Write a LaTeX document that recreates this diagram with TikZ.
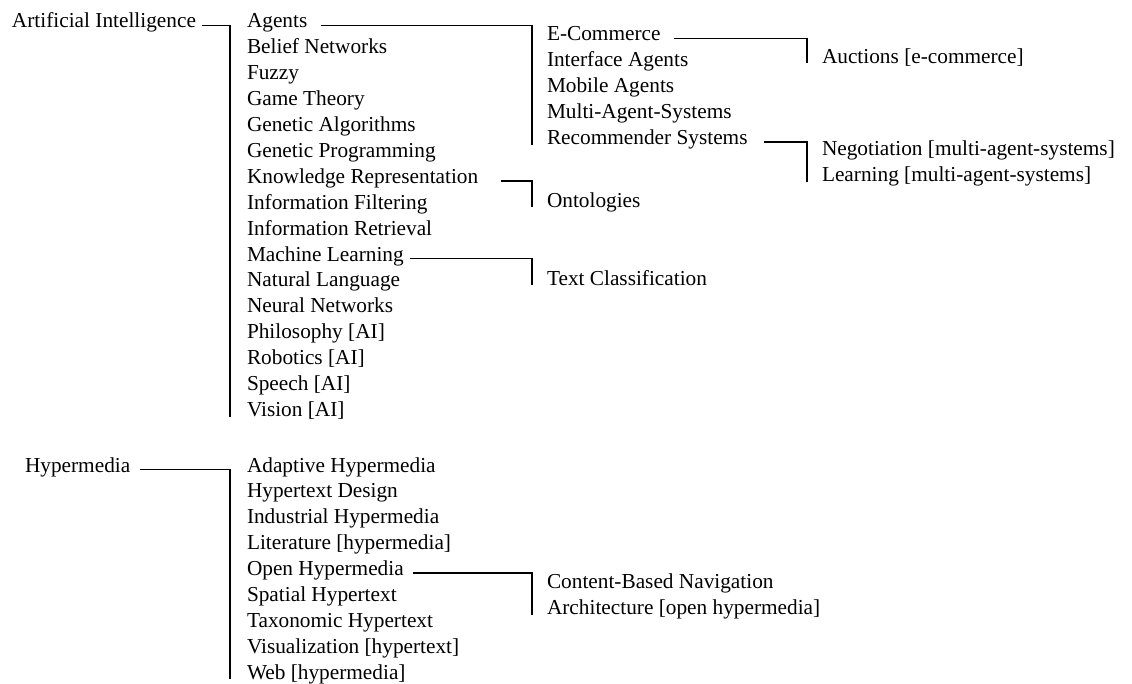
\documentclass[tikz,border=0pt]{standalone}
\usepackage{fontspec}
\setmainfont{Liberation Serif}
\begin{document}
\begin{tikzpicture}[x=1pt,y=-1pt,
  lbl/.style={anchor=base west,inner sep=0pt,outer sep=0pt,font=\fontsize{21.3}{26}\selectfont},
  link/.style={draw=black,line width=1.5pt}]
\useasboundingbox (0,0) rectangle (1132,684);

% ---- top level ----
\node[lbl] (ai)  at (12,28)  {Artificial Intelligence};
\node[lbl] (hyp) at (25,472) {Hypermedia};

% ---- AI subtopics ----
\foreach \name/\txt [count=\i from 0] in {
  agents/Agents, belief/Belief Networks, fuzzy/Fuzzy, game/Game Theory,
  ga/Genetic Algorithms, gp/Genetic Programming, kr/Knowledge Representation,
  ifilt/Information Filtering, iret/Information Retrieval, ml/Machine Learning,
  nl/Natural Language, nn/Neural Networks, phil/{Philosophy [AI]},
  rob/{Robotics [AI]}, speech/{Speech [AI]}, vision/{Vision [AI]}}
  \node[lbl] (\name) at (247,28+25.9*\i) {\txt};

% ---- Agents subtopics ----
\foreach \name/\txt [count=\i from 0] in {
  ecom/E-Commerce, iface/Interface Agents, mobile/Mobile Agents,
  mas/Multi-Agent-Systems, recsys/Recommender Systems}
  \node[lbl] (\name) at (547,41+25.9*\i) {\txt};

\node[lbl] (auct) at (822,63.5)  {Auctions [e-commerce]};
\node[lbl] (nego) at (822,155.7) {Negotiation [multi-agent-systems]};
\node[lbl] (lrn)  at (822,181.7) {Learning [multi-agent-systems]};
\node[lbl] (onto) at (547,207.5) {Ontologies};
\node[lbl] (tc)   at (547,285.5) {Text Classification};

% ---- Hypermedia subtopics ----
\foreach \name/\txt [count=\i from 0] in {
  adapt/Adaptive Hypermedia, htd/Hypertext Design, ind/Industrial Hypermedia,
  lit/{Literature [hypermedia]}, open/Open Hypermedia, spat/Spatial Hypertext,
  tax/Taxonomic Hypertext, vis/{Visualization [hypertext]}, web/{Web [hypermedia]}}
  \node[lbl] (\name) at (247,472+25.9*\i) {\txt};

\node[lbl] (cbn)  at (547,588.5) {Content-Based Navigation};
\node[lbl] (arch) at (547,614.5) {Architecture [open hypermedia]};

% ---- brackets: parent -> last child ----
\draw[link] ([shift={(6pt,2.5pt)}]ai.base east)      -| ([xshift=-17pt]vision.base west);
\draw[link] ([shift={(14pt,2.5pt)}]agents.base east) -| ([xshift=-15pt]recsys.base west);
\draw[link] ([shift={(13pt,2.5pt)}]ecom.base east)   -| ([xshift=-15pt]auct.base west);
\draw[link] ([shift={(16pt,2.5pt)}]recsys.base east) -| ([xshift=-15pt]lrn.base west);
\draw[link] ([shift={(23pt,2.5pt)}]kr.base east)     -| ([xshift=-15pt]onto.base west);
\draw[link] ([shift={(6.5pt,2.5pt)}]ml.base east)    -| ([xshift=-15pt]tc.base west);
\draw[link] ([shift={(10pt,2.5pt)}]hyp.base east)    -| ([xshift=-17pt]web.base west);
\draw[link] ([shift={(9pt,2.5pt)}]open.base east)    -| ([xshift=-15pt]arch.base west);
\end{tikzpicture}
\end{document}
